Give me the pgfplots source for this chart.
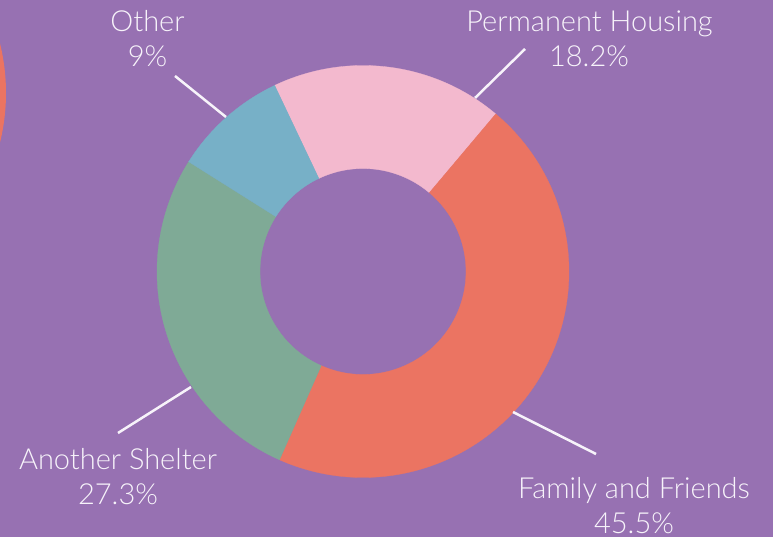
\documentclass[border=0pt]{standalone}
\usepackage{pgfplots}
\pgfplotsset{compat=1.18}
\usepackage{pgfplotstable}
\usepackage{fontspec}
\setmainfont{Lato}[UprightFont={* Light}]
\definecolor{bg}{HTML}{9771B2}
\definecolor{c0}{HTML}{F3B9CE}
\definecolor{c1}{HTML}{EB7462}
\definecolor{c2}{HTML}{7FAA96}
\definecolor{c3}{HTML}{77B0C7}
\definecolor{txt}{HTML}{F7F3FA}

\pgfplotstableread{
idx label value
0 Permanent 18.2
1 Family 45.5
2 Shelter 27.3
3 Other 9
}\piedata

\begin{document}
\begin{tikzpicture}
\xdef\cum{115.4}
\foreach \i in {0,...,3}{
  \pgfplotstablegetelem{\i}{value}\of\piedata
  \pgfmathsetmacro\ea{\cum - 3.6*\pgfplotsretval}
  \expandafter\xdef\csname sa\i\endcsname{\cum}
  \expandafter\xdef\csname ea\i\endcsname{\ea}
  \xdef\cum{\ea}
}
\begin{axis}[scale only axis, width=773pt, height=537pt,
  xmin=0, xmax=773, ymin=0, ymax=537, hide axis, enlargelimits=false, clip=true]
\fill[bg] (rel axis cs:0,0) rectangle (rel axis cs:1,1);
\fill[c1] (axis cs:-200,444) circle[radius=206pt];
\pgfplotsinvokeforeach{0,...,3}{
  \filldraw[c#1, line width=0.3pt]
    ([shift={(\csname sa#1\endcsname:206pt)}]axis cs:363,265.5)
    arc[start angle=\csname sa#1\endcsname, end angle=\csname ea#1\endcsname, radius=206pt]
    -- ([shift={(\csname ea#1\endcsname:103pt)}]axis cs:363,265.5)
    arc[start angle=\csname ea#1\endcsname, end angle=\csname sa#1\endcsname, radius=103pt]
    -- cycle;
}
\addplot[txt, line width=2.5pt, no marks] coordinates {(175,461) (226,420)};
\addplot[txt, line width=2.5pt, no marks] coordinates {(525,488) (475,439)};
\addplot[txt, line width=2.5pt, no marks] coordinates {(191,150) (118,104)};
\addplot[txt, line width=2.5pt, no marks] coordinates {(513,125) (596,83)};
\tikzset{lab/.style={anchor=base, inner sep=0pt, text=txt, font=\fontsize{29}{34}\selectfont}}
\node[lab] at (axis cs:147.5,505) {Other};
\node[lab] at (axis cs:147.5,470) {9\%};
\node[lab] at (axis cs:589.5,505) {Permanent Housing};
\node[lab] at (axis cs:589,470) {18.2\%};
\node[lab] at (axis cs:118,67) {Another Shelter};
\node[lab] at (axis cs:118,32) {27.3\%};
\node[lab] at (axis cs:634,38) {Family and Friends};
\node[lab] at (axis cs:634,3) {45.5\%};
\coordinate (bl) at (rel axis cs:0,0);
\coordinate (tr) at (rel axis cs:1,1);
\end{axis}
\pgfresetboundingbox
\path[use as bounding box] (bl) rectangle (tr);
\end{tikzpicture}
\end{document}
